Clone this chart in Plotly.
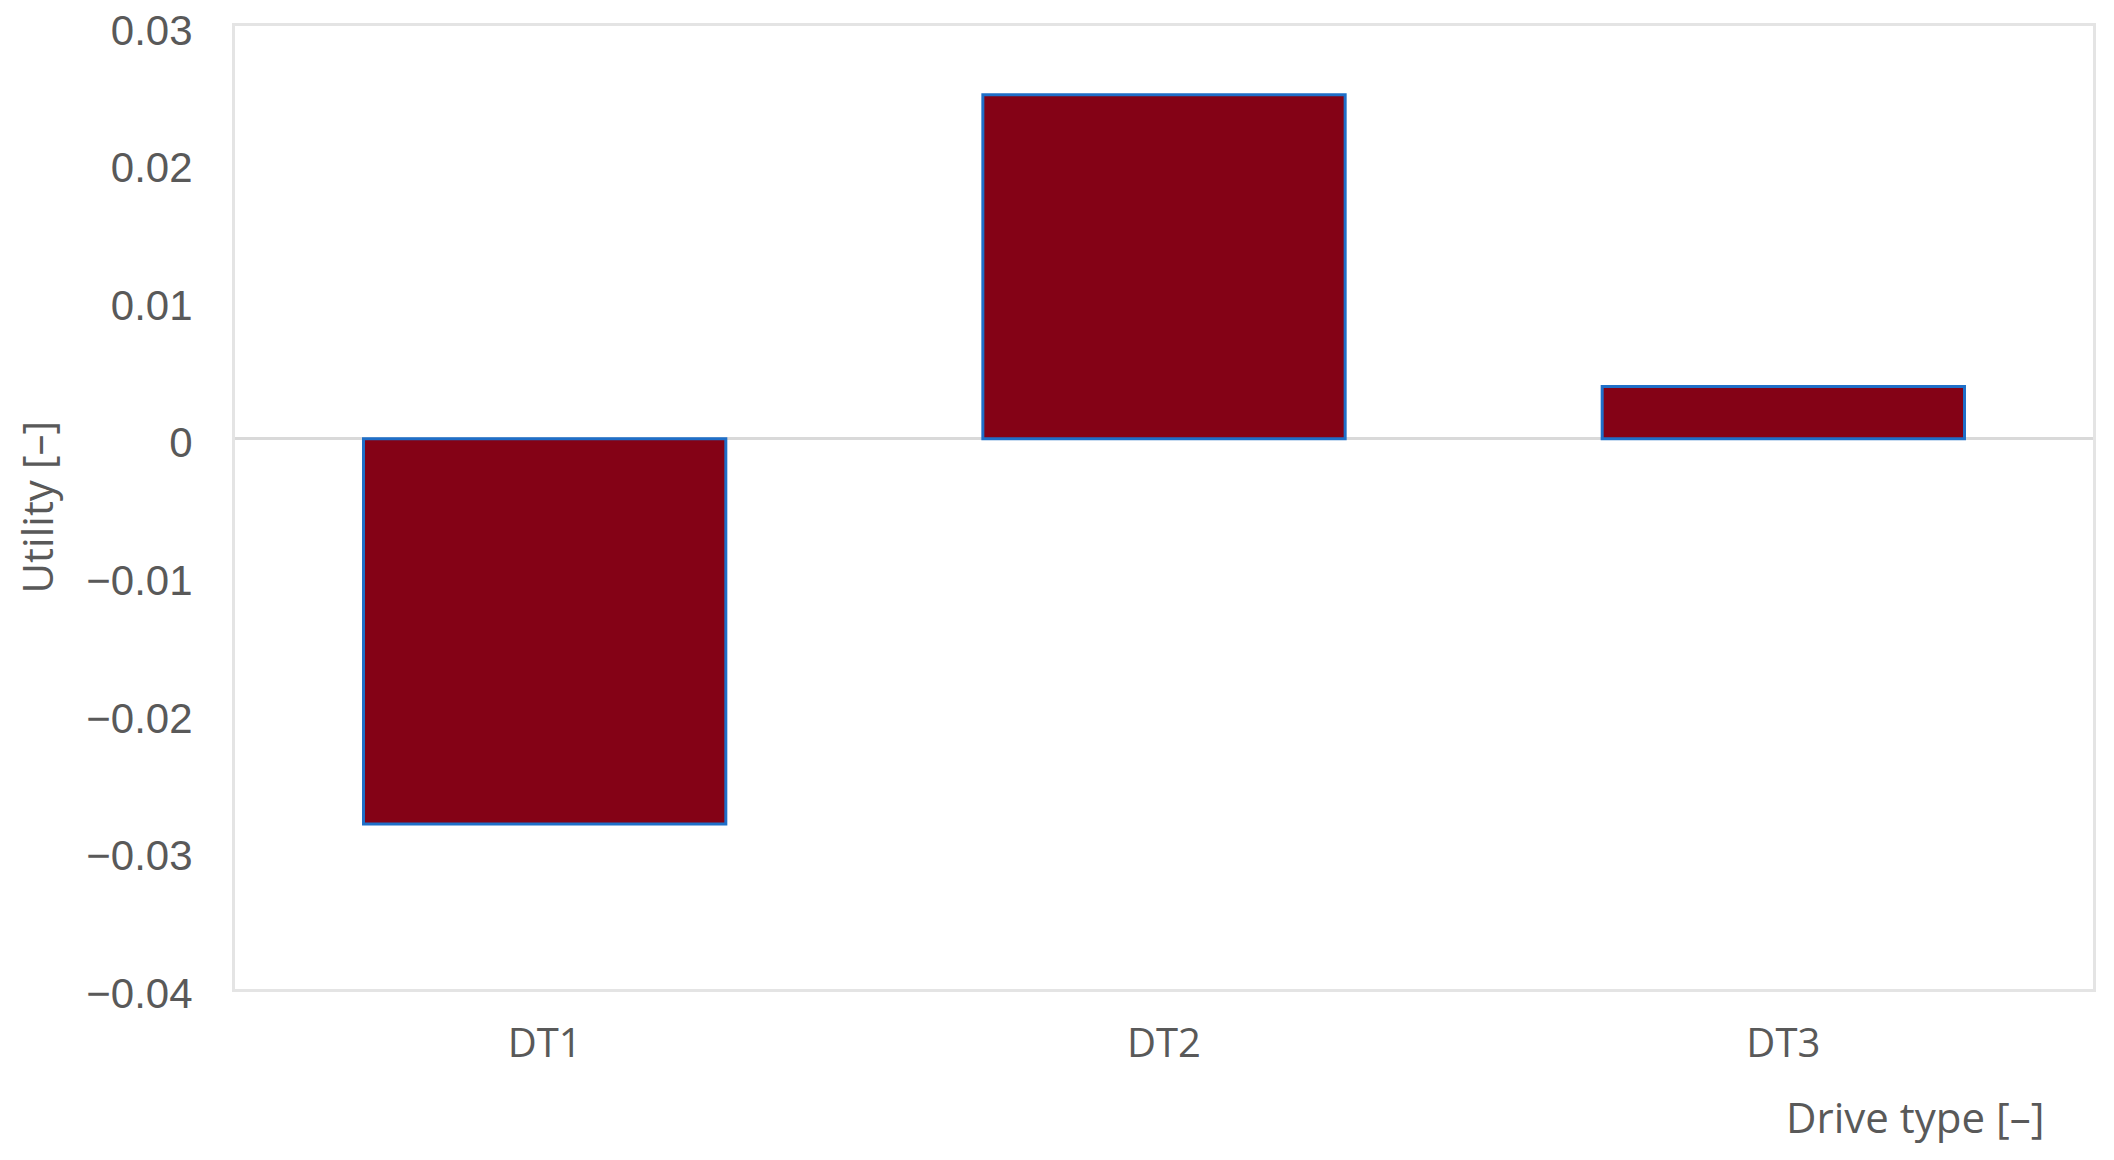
''' Utility by drive type '''
import plotly.graph_objects as go

drive_types = ['DT1', 'DT2', 'DT3']
utility = [-0.0280, 0.0250, 0.0038]

y_ticks = [0.03, 0.02, 0.01, 0, -0.01, -0.02, -0.03, -0.04]
y_tick_text = ['0.03', '0.02', '0.01', '0', '\u22120.01', '\u22120.02', '\u22120.03', '\u22120.04']

fig = go.Figure()

fig.add_trace(
    go.Bar(
        x=drive_types,
        y=utility,
        marker=dict(color='#840216', line=dict(color='#1f6fc8', width=3))
    )
)

fig.update_layout(
    width=2114,
    height=1160,
    plot_bgcolor='white',
    paper_bgcolor='white',
    bargap=0.415,
    showlegend=False,
    margin=dict(l=227, r=29, t=18, b=179),
    font=dict(family='Liberation Sans, Arial', color='#595959'),
    yaxis=dict(
        range=[-0.04, 0.03],
        tickvals=y_ticks,
        ticktext=y_tick_text,
        tickfont=dict(size=42, family='Liberation Sans, Arial', color='#595959'),
        ticklabelstandoff=31,
        ticklabelshift=4,
        ticklabeloverflow='allow',
        automargin=False,
        showgrid=False,
        zeroline=True,
        zerolinecolor='#d9d9d9',
        zerolinewidth=3,
        showline=True,
        mirror=True,
        linecolor='#e4e4e4',
        linewidth=3
    ),
    xaxis=dict(
        tickfont=dict(size=40, family='Open Sans, Liberation Sans', color='#595959'),
        ticklabelstandoff=17,
        automargin=False,
        showgrid=False,
        showline=True,
        mirror=True,
        linecolor='#e4e4e4',
        linewidth=3
    ),
    annotations=[
        dict(
            text='Drive type [\u2013]',
            xref='paper', yref='paper',
            x=1, y=0,
            xanchor='right', yanchor='middle',
            xshift=-47, yshift=-127,
            showarrow=False,
            font=dict(size=42, family='Open Sans, Liberation Sans', color='#595959')
        ),
        dict(
            text='Utility [\u2013]',
            xref='paper', yref='paper',
            x=0, y=0.5,
            xanchor='center', yanchor='middle',
            xshift=-199,
            textangle=-90,
            showarrow=False,
            font=dict(size=42, family='Open Sans, Liberation Sans', color='#595959')
        )
    ]
)

fig.write_html('out.html')
